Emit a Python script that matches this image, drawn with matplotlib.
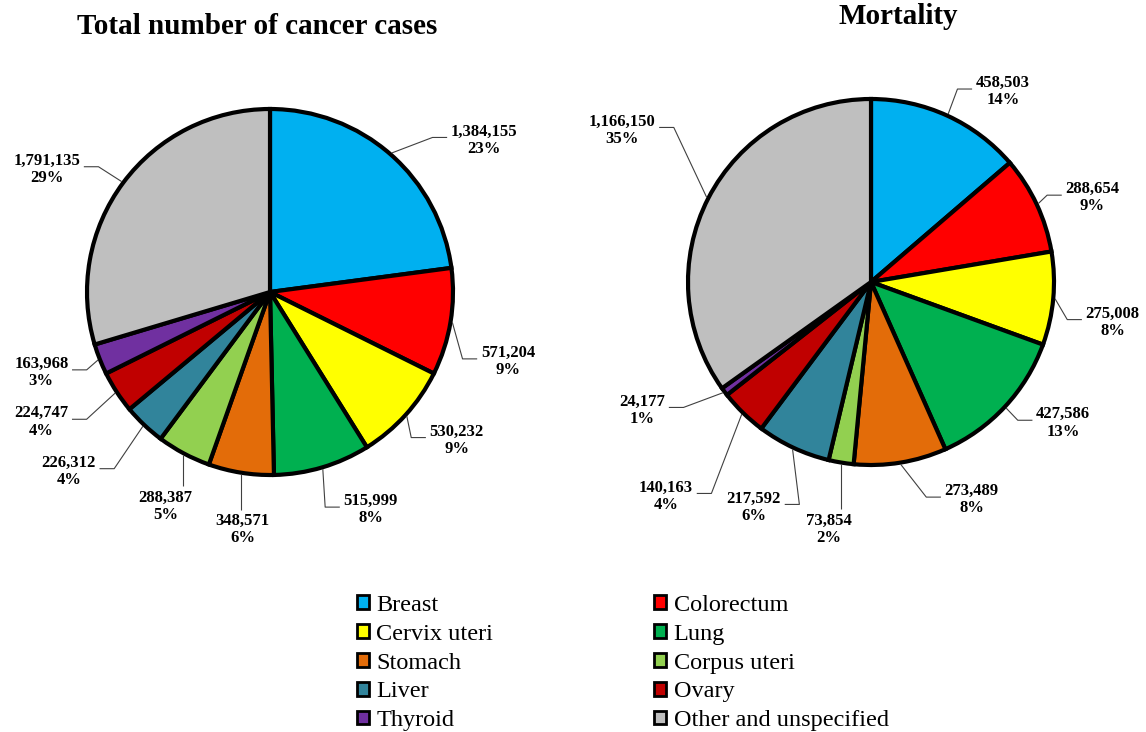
import matplotlib
matplotlib.use('Agg')
import matplotlib.pyplot as plt
from matplotlib.patches import Patch
import numpy as np

plt.rcParams['font.family'] = ['Liberation Serif', 'DejaVu Serif']

# Data
sites = ['Breast', 'Colorectum', 'Cervix uteri', 'Lung', 'Stomach',
         'Corpus uteri', 'Liver', 'Ovary', 'Thyroid', 'Other and unspecified']
colors = ['#00B0F0', '#FF0000', '#FFFF00', '#00B050', '#E36C09',
          '#92D050', '#31849B', '#C00000', '#7030A0', '#BFBFBF']
cases = [1384155, 571204, 530232, 515999, 348571, 288387, 226312, 224747, 163968, 1791135]
cases_pct = [23, 9, 9, 8, 6, 5, 4, 4, 3, 29]
deaths = [458503, 288654, 275008, 427586, 273489, 73854, 217592, 140163, 24177, 1166150]
deaths_pct = [14, 9, 8, 13, 8, 2, 6, 4, 1, 35]

# Label placement (in pie-radius units)
cases_lab_xy = [(1.17, 0.83), (1.30, -0.38), (1.02, -0.81), (0.55, -1.19), (-0.15, -1.30),
                (-0.57, -1.17), (-1.10, -0.98), (-1.25, -0.71), (-1.25, -0.44), (-1.22, 0.67)]
deaths_lab_xy = [(0.72, 1.04), (1.21, 0.46), (1.32, -0.22), (1.05, -0.77), (0.55, -1.19),
                 (-0.23, -1.35), (-0.64, -1.23), (-1.12, -1.17), (-1.25, -0.70), (-1.36, 0.83)]

W, H = 1146, 732
LIM = 1.45
fig = plt.figure(figsize=(W / 100, H / 100), dpi=100)


def make_ax(cx, cy, r=183):
    half = LIM * r
    ax = fig.add_axes([(cx - half) / W, (H - cy - half) / H, 2 * half / W, 2 * half / H])
    return ax


def draw_pie(ax, values, pcts, lab_xy):
    wedges, _ = ax.pie(values, colors=colors, startangle=90, counterclock=False,
                       radius=1.0, wedgeprops=dict(edgecolor='black', linewidth=3))
    ax.set_xlim(-LIM, LIM)
    ax.set_ylim(-LIM, LIM)
    ax.set_aspect('equal')
    ax.axis('off')
    texts = []
    for (lx, ly), v, p in zip(lab_xy, values, pcts):
        t = ax.text(lx, ly, f'{v:,}\n{p}%', ha='center', va='center', fontsize=12,
                    fontweight='bold', linespacing=1.1, zorder=5)
        texts.append(t)
    return wedges, texts


def draw_leaders(ax, wedges, texts):
    inv = ax.transData.inverted()
    r = fig.canvas.get_renderer()
    for w, t in zip(wedges, texts):
        th = np.deg2rad((w.theta1 + w.theta2) / 2)
        ex, ey = 1.01 * np.cos(th), 1.01 * np.sin(th)
        bb = t.get_window_extent(r).transformed(inv)
        gap, stub = 0.02, 0.08
        ymid = bb.y0 + 0.58 * bb.height
        if bb.x0 + 0.05 < ex < bb.x1 - 0.05 and bb.y1 < ey:
            xs, ys = [ex, ex], [ey, bb.y1 + gap]
        elif bb.x0 >= ex:
            ax_ = bb.x0 - gap
            xs, ys = [ex, ax_ - stub, ax_], [ey, ymid, ymid]
        else:
            ax_ = bb.x1 + gap
            xs, ys = [ex, ax_ + stub, ax_], [ey, ymid, ymid]
        ax.plot(xs, ys, color='#404040', lw=0.8, zorder=1, solid_capstyle='butt')


ax1 = make_ax(270, 292)
ax2 = make_ax(871, 282)
w1, t1 = draw_pie(ax1, cases, cases_pct, cases_lab_xy)
w2, t2 = draw_pie(ax2, deaths, deaths_pct, deaths_lab_xy)
fig.canvas.draw()
draw_leaders(ax1, w1, t1)
draw_leaders(ax2, w2, t2)

fig.text(257 / W, 1 - 27 / H, 'Total number of cancer cases', ha='center', va='center',
         fontsize=21, fontweight='bold')
fig.text(898 / W, 1 - 17 / H, 'Mortality', ha='center', va='center',
         fontsize=21, fontweight='bold')

# Legend, filled row by row
handles = [Patch(facecolor=c, edgecolor='black', linewidth=2) for c in colors]
order = list(range(0, 10, 2)) + list(range(1, 10, 2))
fig.legend([handles[i] for i in order], [sites[i] for i in order], ncol=2,
           loc='upper left', bbox_to_anchor=(357 / W, 1 - 595 / H), frameon=False,
           fontsize=17.5, handlelength=0.5, handleheight=0.5, handletextpad=0.3,
           labelspacing=0.32, columnspacing=6.62, borderpad=0, borderaxespad=0)

fig.savefig('out.png', dpi=100)
